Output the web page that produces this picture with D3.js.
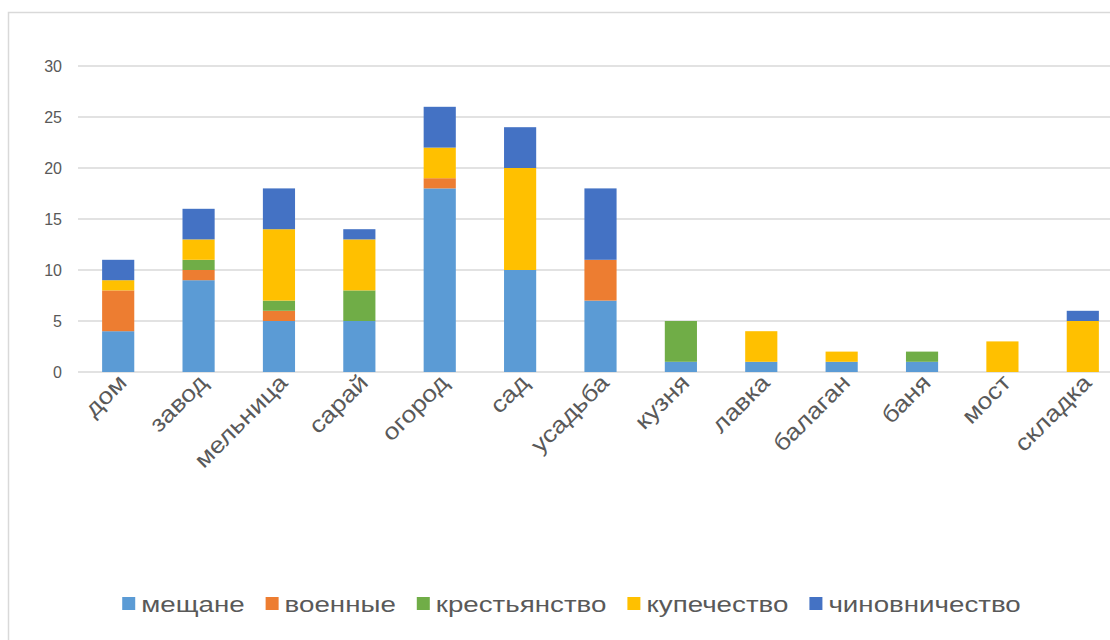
<!DOCTYPE html>
<html><head><meta charset="utf-8">
<script src="https://cdn.jsdelivr.net/npm/d3@7"></script>
<style>body{margin:0;background:#fff}svg{display:block}</style>
</head><body><svg id="c" width="1110" height="640"></svg>
<script>
const categories = ["дом","завод","мельница","сарай","огород","сад","усадьба","кузня","лавка","балаган","баня","мост","складка"];
const seriesNames = ["мещане","военные","крестьянство","купечество","чиновничество"];
const colors = ["#5b9bd5","#ed7d31","#70ad47","#ffc000","#4472c4"];
const meshchane   = [4,9,5,5,18,10,7,1,1,1,1,0,0];
const voennye     = [4,1,1,0,1,0,4,0,0,0,0,0,0];
const krestyane   = [0,1,1,3,0,0,0,4,0,0,1,0,0];
const kupechestvo = [1,2,7,5,3,10,0,0,3,1,0,3,5];
const chinovniki  = [2,3,4,1,4,4,7,0,0,0,0,0,1];
const yTicks = [0,5,10,15,20,25,30];

const seriesValues = [meshchane, voennye, krestyane, kupechestvo, chinovniki];
const rows = categories.map((c,i)=>{const o={cat:c}; seriesNames.forEach((s,j)=>o[s]=seriesValues[j][i]); return o;});
const stack = d3.stack().keys(seriesNames)(rows);

const svg = d3.select("#c");
const font = "'Liberation Sans', Arial, sans-serif";
svg.append("rect").attr("x",8.5).attr("y",12.5).attr("width",1200).attr("height",700)
  .attr("fill","none").attr("stroke","#d9d9d9").attr("stroke-width",1.5);

const x = d3.scaleBand().domain(categories).range([78,1123]).paddingInner(0.6).paddingOuter(0.3);
const y = d3.scaleLinear().domain([0,30]).range([372,66]);

const g = svg.append("g");
g.selectAll("line.grid").data(yTicks).join("line").attr("class","grid")
  .attr("x1",78).attr("x2",1110).attr("y1",d=>y(d)).attr("y2",d=>y(d))
  .attr("stroke","#d9d9d9").attr("stroke-width",1.3);

const yAxis = d3.axisLeft(y).tickValues(yTicks).tickSize(0).tickPadding(0);
const ya = svg.append("g").attr("transform","translate(62,0)").call(yAxis);
ya.select(".domain").remove();
ya.selectAll("text").attr("font-family",font).attr("font-size",16).attr("fill","#595959");

stack.forEach((s,j)=>{
  g.append("g").attr("fill",colors[j]).selectAll("rect").data(s).join("rect")
   .attr("x",d=>x(d.data.cat)).attr("width",x.bandwidth())
   .attr("y",d=>y(d[1])).attr("height",d=>y(d[0])-y(d[1]));
});

const xAxis = d3.axisBottom(x).tickSize(0).tickPadding(0);
const xa = svg.append("g").attr("transform","translate(0,372)").call(xAxis);
xa.select(".domain").remove();
xa.selectAll("text").attr("font-family",font).attr("font-size",23).attr("fill","#595959")
  .attr("text-anchor","end").attr("dy",0)
  .attr("transform","translate(10,12) rotate(-45) scale(1.15,1)");

const lg = svg.append("g").attr("transform","translate(0,604)");
const sx = 1.26;
const items = [];
seriesNames.forEach((s,j)=>{
  const it = lg.append("g");
  it.append("rect").attr("x",0).attr("y",-7).attr("width",13).attr("height",13).attr("fill",colors[j]);
  const tg = it.append("g").attr("transform",`translate(19,0) scale(${sx},1)`);
  const t = tg.append("text").attr("x",0).attr("y",8).attr("font-family",font).attr("font-size",22).attr("fill","#595959").text(s);
  const w = 19 + t.node().getComputedTextLength()*sx;
  items.push({it,w});
});
const gap = 21;
const total = d3.sum(items,d=>d.w) + gap*(items.length-1);
let start = 571.5 - total/2;
items.forEach(d=>{d.it.attr("transform",`translate(${start},0)`); start += d.w + gap;});
</script></body></html>
